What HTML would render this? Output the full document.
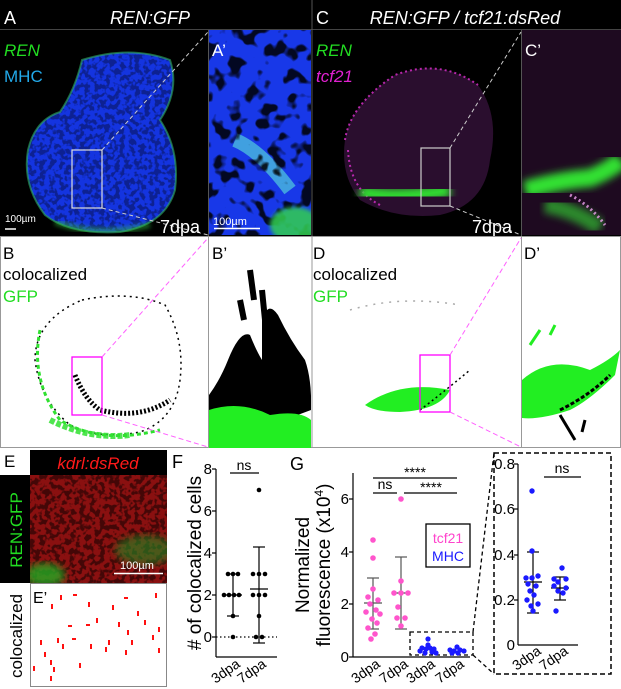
<!DOCTYPE html>
<html><head><meta charset="utf-8"><style>
html,body{margin:0;padding:0;background:#fff;}
svg{display:block;font-family:"Liberation Sans",sans-serif;}
</style></head><body>
<svg width="621" height="689" viewBox="0 0 621 689" xmlns="http://www.w3.org/2000/svg">
<defs>
<filter id="tex" x="0" y="0" width="100%" height="100%">
<feTurbulence type="fractalNoise" baseFrequency="0.07" numOctaves="2" seed="3"/>
<feColorMatrix type="matrix" values="0 0 0 0 0  0 0 0 0 0  0 0 0 0 0  0 0 0 -9 4.2"/>
</filter>
<filter id="texf" x="0" y="0" width="100%" height="100%">
<feTurbulence type="fractalNoise" baseFrequency="0.2" numOctaves="2" seed="7"/>
<feColorMatrix type="matrix" values="0 0 0 0 0  0 0 0 0 0  0 0 0 0 0  0 0 0 -8 4.3"/>
</filter>
<filter id="blur2"><feGaussianBlur stdDeviation="2"/></filter>
<filter id="blur4"><feGaussianBlur stdDeviation="4"/></filter>
<clipPath id="cA"><rect x="0" y="30" width="208" height="205"/></clipPath>
<clipPath id="cAp"><rect x="209" y="30" width="102" height="205"/></clipPath>
<clipPath id="cC"><rect x="313" y="30" width="208" height="205"/></clipPath>
<clipPath id="cCp"><rect x="522" y="30" width="99" height="205"/></clipPath>
<clipPath id="cBp"><rect x="209" y="237" width="102" height="211"/></clipPath>
<clipPath id="cE"><rect x="30" y="475" width="137" height="108"/></clipPath>
<clipPath id="heartA"><path d="M82 60 Q130 45 170 60 Q180 90 160 120 Q180 150 175 190 Q165 225 120 232 Q70 235 45 215 Q22 185 28 150 Q35 120 60 112 Q75 90 82 60Z"/></clipPath>
</defs>

<!-- TOP ROW -->
<rect x="0" y="0" width="621" height="236" fill="#000"/>
<line x1="0" y1="29.5" x2="621" y2="29.5" stroke="#444" stroke-width="1"/>
<line x1="312" y1="0" x2="312" y2="236" stroke="#555"/>
<line x1="208.5" y1="30" x2="208.5" y2="236" stroke="#555"/>
<line x1="521.5" y1="30" x2="521.5" y2="236" stroke="#555"/>

<!-- A heart -->
<g clip-path="url(#cA)">
<path d="M82 60 Q130 45 170 60 Q180 90 160 120 Q180 150 175 190 Q165 225 120 232 Q70 235 45 215 Q22 185 28 150 Q35 120 60 112 Q75 90 82 60Z" fill="#1434e0"/>
<g clip-path="url(#heartA)"><rect x="20" y="45" width="170" height="190" filter="url(#texf)" opacity="0.35"/></g>
<path d="M82 60 Q130 45 170 60 Q180 90 160 120 Q180 150 175 190 Q165 225 120 232 Q70 235 45 215 Q22 185 28 150 Q35 120 60 112 Q75 90 82 60Z" fill="none" stroke="#30b060" stroke-width="2" opacity="0.6"/>
<path d="M55 222 Q100 238 150 225" stroke="#30c040" stroke-width="6" fill="none" opacity="0.5" filter="url(#blur2)"/>
</g>
<rect x="72" y="150" width="30" height="58" fill="none" stroke="#ddd" stroke-width="1.2"/>
<line x1="102" y1="150" x2="208" y2="32" stroke="#ccc" stroke-dasharray="4,3"/>
<line x1="102" y1="208" x2="208" y2="235" stroke="#ccc" stroke-dasharray="4,3"/>
<!-- A' -->
<g clip-path="url(#cAp)">
<rect x="209" y="30" width="102" height="205" fill="#1838e8"/>
<path d="M235 140 Q260 150 290 190" stroke="#40a0e0" stroke-width="14" fill="none"/>
<rect x="209" y="30" width="102" height="205" filter="url(#tex)" opacity="0.85"/>
<ellipse cx="295" cy="225" rx="25" ry="18" fill="#30d050" opacity="0.85" filter="url(#blur2)"/>
</g>
<line x1="214" y1="228.5" x2="260" y2="228.5" stroke="#fff" stroke-width="1.5"/>
<text x="213" y="225" font-size="11" fill="#fff">100µm</text>

<text x="4" y="24" font-size="18" fill="#fff">A</text>
<text x="150" y="24" font-size="18" fill="#fff" font-style="italic" text-anchor="middle">REN:GFP</text>
<text x="4" y="56" font-size="17" fill="#22dd22" font-style="italic">REN</text>
<text x="4" y="82" font-size="17" fill="#22a8e8">MHC</text>
<text x="212" y="56" font-size="17" fill="#fff">A’</text>
<line x1="5" y1="229" x2="16" y2="229" stroke="#fff" stroke-width="1.5"/>
<text x="5" y="222" font-size="10" fill="#fff">100µm</text>
<text x="160" y="233" font-size="18" fill="#fff">7dpa</text>

<!-- C heart -->
<g clip-path="url(#cC)">
<path d="M395 75 Q440 58 478 85 Q500 115 490 160 Q485 205 440 215 Q395 220 360 200 Q340 175 345 140 Q350 105 395 75Z" fill="#2a0e2e"/>
<path d="M345 140 Q350 105 395 75 Q440 58 478 85" stroke="#e030d0" stroke-width="2" fill="none" stroke-dasharray="2,3" opacity="0.8"/>
<path d="M348 150 Q350 190 380 205" stroke="#e030d0" stroke-width="2" fill="none" stroke-dasharray="2,3" opacity="0.8"/>
<path d="M360 192 Q400 200 450 190" stroke="#30e030" stroke-width="14" fill="none" filter="url(#blur4)"/>
</g>
<rect x="421" y="148" width="29" height="58" fill="none" stroke="#ccc" stroke-width="1.2"/>
<line x1="450" y1="148" x2="521" y2="32" stroke="#ccc" stroke-dasharray="4,3"/>
<line x1="450" y1="206" x2="521" y2="235" stroke="#ccc" stroke-dasharray="4,3"/>
<!-- C' -->
<g clip-path="url(#cCp)">
<rect x="522" y="30" width="99" height="205" fill="#1e0a20"/>
<path d="M525 190 Q560 180 590 178 Q610 170 621 160" stroke="#30e030" stroke-width="18" fill="none" filter="url(#blur4)"/>
<path d="M545 205 Q575 210 600 228" stroke="#30c030" stroke-width="16" fill="none" opacity="0.7" filter="url(#blur4)"/>
<path d="M570 195 Q590 205 605 225" stroke="#f0a0f0" stroke-width="3" fill="none" stroke-dasharray="2,3" opacity="0.8"/>
</g>
<text x="316" y="24" font-size="18" fill="#fff">C</text>
<text x="465" y="24" font-size="18" fill="#fff" font-style="italic" text-anchor="middle">REN:GFP / tcf21:dsRed</text>
<text x="316" y="56" font-size="17" fill="#22dd22" font-style="italic">REN</text>
<text x="316" y="82" font-size="17" fill="#e020d0" font-style="italic">tcf21</text>
<text x="525" y="56" font-size="17" fill="#fff">C’</text>
<text x="472" y="233" font-size="18" fill="#fff">7dpa</text>

<!-- MIDDLE ROW -->
<rect x="0.5" y="236.5" width="620" height="211" fill="#fff" stroke="#999"/>
<line x1="208.5" y1="236" x2="208.5" y2="448" stroke="#999"/>
<line x1="312" y1="236" x2="312" y2="448" stroke="#999"/>
<line x1="521.5" y1="236" x2="521.5" y2="448" stroke="#999"/>
<!-- B -->
<path d="M82 300 Q130 290 165 305 Q185 340 180 380 Q175 420 140 432 Q100 440 70 425 Q40 400 35 360 Q35 320 82 300Z" fill="none" stroke="#000" stroke-width="1.5" stroke-dasharray="2,4"/>
<path d="M40 330 Q30 380 60 420 Q100 445 160 430" fill="none" stroke="#30e030" stroke-width="3" stroke-dasharray="4,3"/>
<path d="M75 375 Q85 400 100 410 Q140 420 170 400" fill="none" stroke="#000" stroke-width="5" stroke-dasharray="2,2"/>
<path d="M50 420 Q90 440 130 435" fill="none" stroke="#30e030" stroke-width="6" stroke-dasharray="5,2" opacity="0.85"/>
<rect x="72" y="357" width="30" height="58" fill="none" stroke="#ff00ff" stroke-width="1.3"/>
<line x1="102" y1="357" x2="208" y2="238" stroke="#ff60ff" stroke-dasharray="5,3"/>
<line x1="102" y1="415" x2="208" y2="447" stroke="#ff60ff" stroke-dasharray="5,3"/>
<text x="3" y="259" font-size="17" fill="#000">B</text>
<text x="3" y="280" font-size="17" fill="#000">colocalized</text>
<text x="3" y="302" font-size="17" fill="#22dd22">GFP</text>
<!-- B' -->
<g clip-path="url(#cBp)">
<path d="M228 360 Q240 330 250 335 Q256 350 262 360 L262 320 Q268 300 278 315 Q290 340 305 360 Q312 380 311 410 L209 448 L209 395 Q220 380 228 360Z" fill="#000"/>
<path d="M250 270 L254 300 M262 290 L266 330 M240 300 L244 320" stroke="#000" stroke-width="6"/>
<path d="M209 448 L209 410 Q240 400 270 415 Q300 410 311 420 L311 448Z" fill="#22ee22"/>
</g>
<text x="212" y="259" font-size="17" fill="#000">B’</text>
<!-- D -->
<path d="M365 405 Q400 380 450 390 Q440 410 400 412 Q375 412 365 405Z" fill="#22ee22"/>
<path d="M420 410 Q440 395 470 370" stroke="#000" stroke-width="1.5" stroke-dasharray="2,3" fill="none"/>
<path d="M350 310 Q400 295 460 305" stroke="#aaa" stroke-width="1.5" stroke-dasharray="2,6" fill="none"/>
<rect x="420" y="355" width="30" height="57" fill="none" stroke="#ff00ff" stroke-width="1.3"/>
<line x1="450" y1="355" x2="521" y2="238" stroke="#ff60ff" stroke-dasharray="5,3"/>
<line x1="450" y1="412" x2="521" y2="447" stroke="#ff60ff" stroke-dasharray="5,3"/>
<text x="313" y="259" font-size="17" fill="#000">D</text>
<text x="313" y="280" font-size="17" fill="#000">colocalized</text>
<text x="313" y="302" font-size="17" fill="#22dd22">GFP</text>
<!-- D' -->
<path d="M522 380 Q550 355 590 370 Q610 360 620 350 L615 375 Q590 400 570 410 Q540 420 522 418Z" fill="#22ee22"/>
<path d="M560 410 Q590 395 610 375" stroke="#000" stroke-width="3" fill="none" stroke-dasharray="4,2"/>
<path d="M560 415 L575 440 M585 420 L582 432" stroke="#000" stroke-width="3"/>
<path d="M530 345 L540 330 M550 335 L555 325" stroke="#22ee22" stroke-width="3"/>
<text x="524" y="259" font-size="17" fill="#000">D’</text>

<!-- E -->
<text x="4" y="467" font-size="17" fill="#000">E</text>
<rect x="30" y="450" width="137" height="25" fill="#000"/>
<text x="98" y="469" font-size="17" fill="#ff1a1a" font-style="italic" text-anchor="middle">kdrl:dsRed</text>
<rect x="0" y="475" width="30" height="108" fill="#000"/>
<text transform="translate(22,530) rotate(-90)" font-size="17" fill="#22dd22" text-anchor="middle">REN:GFP</text>
<g clip-path="url(#cE)">
<rect x="30" y="475" width="137" height="108" fill="#8a1010"/>
<rect x="30" y="475" width="137" height="108" filter="url(#texf)" opacity="0.5"/>
<ellipse cx="145" cy="550" rx="30" ry="15" fill="#228822" opacity="0.6" filter="url(#blur4)"/>
<ellipse cx="45" cy="575" rx="20" ry="12" fill="#22aa22" opacity="0.8" filter="url(#blur4)"/>
</g>
<line x1="114" y1="573.5" x2="163" y2="573.5" stroke="#fff" stroke-width="1.5"/>
<text x="120" y="569" font-size="11" fill="#fff">100µm</text>
<rect x="30.5" y="583.5" width="136" height="103" fill="#fff" stroke="#888"/>
<text x="33" y="603" font-size="16" fill="#000">E’</text>
<g fill="#ff1010">
<rect x="60" y="595" width="2" height="5"/><rect x="73" y="594" width="4" height="2"/><rect x="51" y="604" width="2" height="5"/><rect x="88" y="602" width="2" height="5"/><rect x="112" y="605" width="2" height="5"/><rect x="124" y="597" width="4" height="2"/><rect x="155" y="593" width="2" height="5"/><rect x="96" y="618" width="2" height="5"/><rect x="118" y="622" width="2" height="5"/><rect x="137" y="611" width="2" height="5"/><rect x="144" y="620" width="2" height="5"/><rect x="158" y="627" width="2" height="5"/><rect x="86" y="624" width="4" height="2"/><rect x="108" y="640" width="2" height="5"/><rect x="127" y="630" width="2" height="5"/><rect x="131" y="640" width="2" height="5"/><rect x="152" y="635" width="2" height="5"/><rect x="68" y="625" width="4" height="2"/><rect x="57" y="638" width="2" height="5"/><rect x="62" y="644" width="2" height="5"/><rect x="72" y="638" width="4" height="2"/><rect x="90" y="644" width="2" height="5"/><rect x="105" y="647" width="2" height="5"/><rect x="40" y="640" width="2" height="5"/><rect x="44" y="652" width="2" height="5"/><rect x="50" y="660" width="2" height="5"/><rect x="53" y="667" width="2" height="5"/><rect x="33" y="666" width="2" height="5"/><rect x="125" y="650" width="2" height="5"/><rect x="50" y="676" width="2" height="5"/><rect x="79" y="663" width="2" height="5"/><rect x="158" y="648" width="2" height="5"/>
</g>
<text transform="translate(22,636) rotate(-90)" font-size="17" fill="#000" text-anchor="middle">colocalized</text>

<!-- F -->
<text x="172" y="468" font-size="18" fill="#000">F</text>
<text transform="translate(201,563) rotate(-90)" font-size="19" fill="#000" text-anchor="middle"># of colocalized cells</text>
<g stroke="#000" stroke-width="1.2" fill="none">
<line x1="216" y1="469" x2="216" y2="657"/>
<line x1="216" y1="657" x2="277" y2="657"/>
<line x1="212" y1="469" x2="216" y2="469"/><line x1="212" y1="511" x2="216" y2="511"/><line x1="212" y1="553" x2="216" y2="553"/><line x1="212" y1="595" x2="216" y2="595"/><line x1="212" y1="637" x2="216" y2="637"/>
<line x1="216" y1="637" x2="277" y2="637" stroke-dasharray="1.5,2.5"/>
<line x1="230" y1="473" x2="259" y2="473"/>
<line x1="233" y1="574" x2="233" y2="616"/><line x1="227" y1="574" x2="239" y2="574"/><line x1="227" y1="616" x2="239" y2="616"/><line x1="224" y1="595" x2="242" y2="595"/>
<line x1="259" y1="547" x2="259" y2="643"/><line x1="253" y1="547" x2="265" y2="547"/><line x1="253" y1="643" x2="265" y2="643"/><line x1="250" y1="589" x2="268" y2="589"/>
</g>
<g font-size="15" fill="#000" text-anchor="end">
<text x="212" y="474">8</text><text x="212" y="516">6</text><text x="212" y="558">4</text><text x="212" y="600">2</text><text x="212" y="642">0</text>
</g>
<text x="244" y="470" font-size="14" text-anchor="middle">ns</text>
<g fill="#000">
<circle cx="228" cy="574" r="2.3"/><circle cx="233" cy="574" r="2.3"/><circle cx="238" cy="574" r="2.3"/>
<circle cx="224" cy="595" r="2.3"/><circle cx="229" cy="595" r="2.3"/><circle cx="234" cy="595" r="2.3"/><circle cx="239" cy="595" r="2.3"/><circle cx="233" cy="616" r="2.3"/><circle cx="233" cy="637" r="2.3"/>
<circle cx="259" cy="490" r="2.3"/><circle cx="253" cy="574" r="2.3"/><circle cx="259" cy="574" r="2.3"/><circle cx="265" cy="574" r="2.3"/>
<circle cx="253" cy="595" r="2.3"/><circle cx="259" cy="595" r="2.3"/><circle cx="265" cy="595" r="2.3"/><circle cx="259" cy="616" r="2.3"/><circle cx="256" cy="637" r="2.3"/><circle cx="262" cy="637" r="2.3"/>
</g>
<g font-size="14" fill="#000" text-anchor="end">
<text transform="translate(241,666) rotate(-35)">3dpa</text>
<text transform="translate(267,666) rotate(-35)">7dpa</text>
</g>

<!-- G -->
<text x="290" y="470" font-size="18" fill="#000">G</text>
<text transform="translate(309,565) rotate(-90)" font-size="19" fill="#000" text-anchor="middle">Normalized</text>
<text transform="translate(330,565) rotate(-90)" font-size="19" fill="#000" text-anchor="middle">fluorescence (x10<tspan font-size="12" dy="-7">4</tspan><tspan dy="7">)</tspan></text>
<g stroke="#000" stroke-width="1.2" fill="none">
<line x1="353" y1="473" x2="353" y2="657"/>
<line x1="353" y1="657" x2="470" y2="657"/>
<line x1="349" y1="499" x2="353" y2="499"/><line x1="349" y1="552" x2="353" y2="552"/><line x1="349" y1="604" x2="353" y2="604"/><line x1="349" y1="657" x2="353" y2="657"/>
<line x1="373" y1="478" x2="457" y2="478"/>
<line x1="373" y1="493" x2="397" y2="493"/>
<line x1="404" y1="493" x2="457" y2="493"/>
<line x1="373" y1="578" x2="373" y2="629" stroke="#555"/><line x1="367" y1="578" x2="379" y2="578" stroke="#555"/><line x1="367" y1="629" x2="379" y2="629" stroke="#555"/><line x1="364" y1="603" x2="382" y2="603" stroke="#555"/>
<line x1="401" y1="557" x2="401" y2="629" stroke="#555"/><line x1="395" y1="557" x2="407" y2="557" stroke="#555"/><line x1="395" y1="629" x2="407" y2="629" stroke="#555"/><line x1="392" y1="593" x2="410" y2="593" stroke="#555"/>
<rect x="426" y="524" width="44" height="43" stroke-width="1.3"/>
<rect x="410" y="632" width="63" height="23" stroke-dasharray="4,3" stroke-width="1.3"/>
<line x1="473" y1="655" x2="494" y2="674" stroke-dasharray="4,3" stroke-width="1.3"/>
<rect x="494" y="453" width="117" height="221" stroke-dasharray="5,3" stroke-width="1.5"/>
</g>
<g font-size="15" fill="#000" text-anchor="end">
<text x="349" y="504">6</text><text x="349" y="557">4</text><text x="349" y="609">2</text><text x="349" y="662">0</text>
</g>
<text x="415" y="477" font-size="14" text-anchor="middle">****</text>
<text x="385" y="489" font-size="14" text-anchor="middle">ns</text>
<text x="431" y="492" font-size="14" text-anchor="middle">****</text>
<text x="448" y="543" font-size="14" fill="#ff44cc" text-anchor="middle">tcf21</text>
<text x="448" y="561" font-size="14" fill="#1a1aff" text-anchor="middle">MHC</text>
<g fill="#ff55cc">
<circle cx="373" cy="540" r="2.8"/><circle cx="373" cy="558" r="2.8"/><circle cx="373" cy="589" r="2.8"/><circle cx="368" cy="597" r="2.8"/><circle cx="378" cy="600" r="2.8"/><circle cx="370" cy="604" r="2.8"/><circle cx="376" cy="610" r="2.8"/><circle cx="366" cy="612" r="2.8"/><circle cx="380" cy="614" r="2.8"/><circle cx="372" cy="619" r="2.8"/><circle cx="377" cy="623" r="2.8"/><circle cx="368" cy="628" r="2.8"/><circle cx="375" cy="634" r="2.8"/><circle cx="371" cy="639" r="2.8"/>
<circle cx="401" cy="499" r="2.8"/><circle cx="401" cy="581" r="2.8"/><circle cx="394" cy="593" r="2.8"/><circle cx="401" cy="593" r="2.8"/><circle cx="408" cy="593" r="2.8"/><circle cx="398" cy="607" r="2.8"/><circle cx="405" cy="618" r="2.8"/><circle cx="397" cy="618" r="2.8"/><circle cx="401" cy="626" r="2.8"/>
</g>
<g fill="#1a1aff">
<circle cx="428" cy="639" r="2.6"/><circle cx="422" cy="648" r="2.6"/><circle cx="426" cy="649" r="2.6"/><circle cx="430" cy="648" r="2.6"/><circle cx="434" cy="649" r="2.6"/><circle cx="420" cy="651" r="2.6"/><circle cx="425" cy="653" r="2.6"/><circle cx="432" cy="652" r="2.6"/><circle cx="436" cy="653" r="2.6"/><circle cx="428" cy="645" r="2.6"/>
<circle cx="457" cy="647" r="2.6"/><circle cx="450" cy="650" r="2.6"/><circle cx="454" cy="651" r="2.6"/><circle cx="460" cy="650" r="2.6"/><circle cx="464" cy="651" r="2.6"/><circle cx="452" cy="653" r="2.6"/><circle cx="458" cy="653" r="2.6"/>
</g>
<g font-size="14" fill="#000" text-anchor="end">
<text transform="translate(381,666) rotate(-35)">3dpa</text>
<text transform="translate(409,666) rotate(-35)">7dpa</text>
<text transform="translate(436,666) rotate(-35)">3dpa</text>
<text transform="translate(465,666) rotate(-35)">7dpa</text>
</g>

<!-- inset -->
<g stroke="#000" stroke-width="1.2" fill="none">
<line x1="518" y1="464" x2="518" y2="645"/>
<line x1="518" y1="645" x2="578" y2="645"/>
<line x1="514" y1="464" x2="518" y2="464"/><line x1="514" y1="509" x2="518" y2="509"/><line x1="514" y1="555" x2="518" y2="555"/><line x1="514" y1="600" x2="518" y2="600"/>
<line x1="544" y1="477" x2="581" y2="477"/>
<line x1="533" y1="552" x2="533" y2="613"/><line x1="527" y1="552" x2="539" y2="552"/><line x1="527" y1="613" x2="539" y2="613"/><line x1="524" y1="582" x2="542" y2="582"/>
<line x1="560" y1="577" x2="560" y2="600"/><line x1="554" y1="577" x2="566" y2="577"/><line x1="554" y1="600" x2="566" y2="600"/><line x1="551" y1="588" x2="569" y2="588"/>
</g>
<g font-size="15" fill="#000" text-anchor="end">
<text x="515" y="469">0.8</text><text x="515" y="514">0.6</text><text x="515" y="560">0.4</text><text x="515" y="605">0.2</text><text x="515" y="650">0</text>
</g>
<text x="562" y="473" font-size="14" text-anchor="middle">ns</text>
<g fill="#1a1aff">
<circle cx="532" cy="491" r="2.7"/><circle cx="532" cy="551" r="2.7"/><circle cx="526" cy="578" r="2.7"/><circle cx="532" cy="578" r="2.7"/><circle cx="538" cy="576" r="2.7"/><circle cx="528" cy="584" r="2.7"/><circle cx="536" cy="586" r="2.7"/><circle cx="530" cy="591" r="2.7"/><circle cx="534" cy="595" r="2.7"/><circle cx="527" cy="600" r="2.7"/><circle cx="538" cy="604" r="2.7"/><circle cx="531" cy="606" r="2.7"/><circle cx="533" cy="611" r="2.7"/>
<circle cx="562" cy="568" r="2.7"/><circle cx="554" cy="579" r="2.7"/><circle cx="566" cy="579" r="2.7"/><circle cx="558" cy="582" r="2.7"/><circle cx="554" cy="586" r="2.7"/><circle cx="566" cy="588" r="2.7"/><circle cx="558" cy="591" r="2.7"/><circle cx="563" cy="593" r="2.7"/><circle cx="556" cy="611" r="2.7"/>
</g>
<g font-size="14" fill="#000" text-anchor="end">
<text transform="translate(542,653) rotate(-35)">3dpa</text>
<text transform="translate(569,653) rotate(-35)">7dpa</text>
</g>
<line x1="473" y1="632" x2="494" y2="453" stroke="#000" stroke-dasharray="4,3" stroke-width="1.3"/>
</svg>
</body></html>
